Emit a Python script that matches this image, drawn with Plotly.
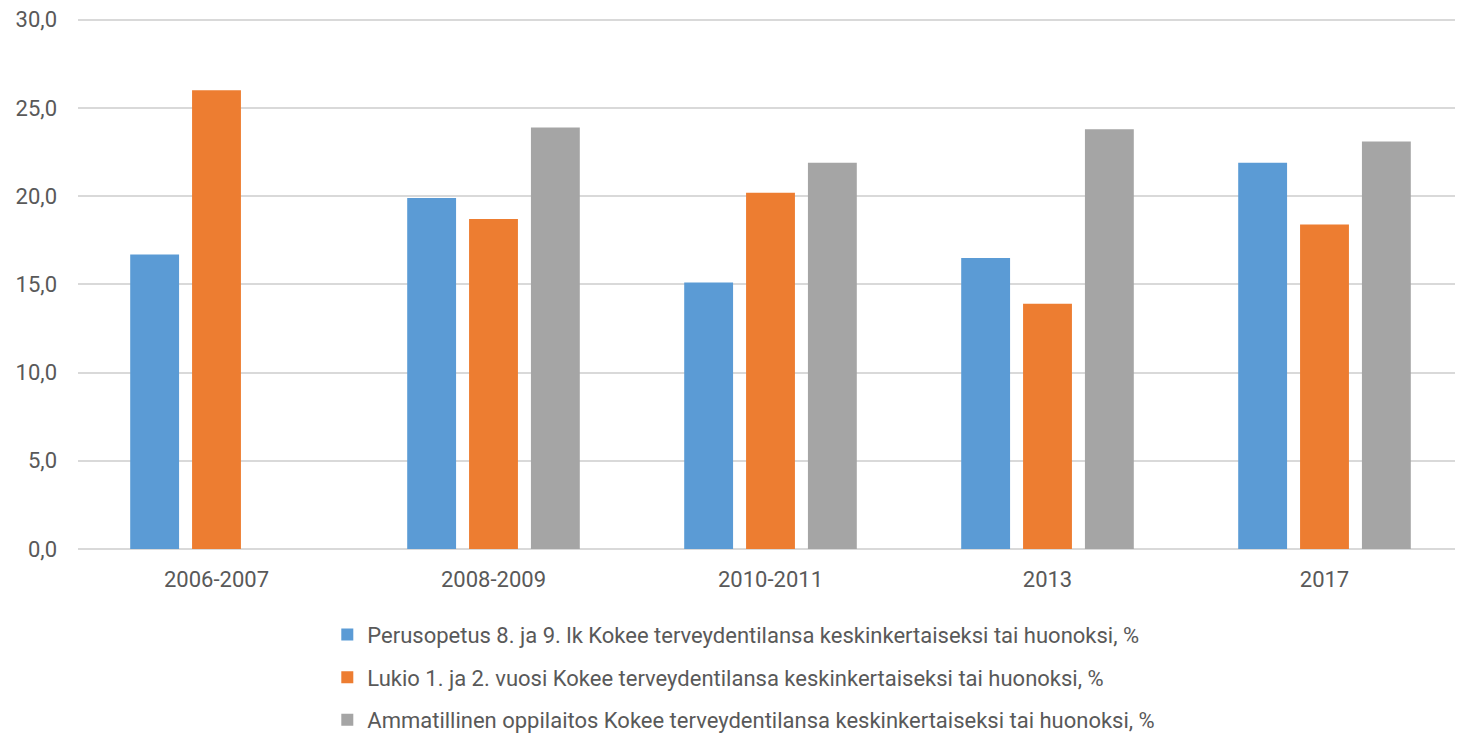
import plotly.graph_objects as go

categories = ["2006-2007", "2008-2009", "2010-2011", "2013", "2017"]
perusopetus = [16.7, 19.9, 15.1, 16.5, 21.9]
lukio = [26.0, 18.7, 20.2, 13.9, 18.4]
ammatillinen = [None, 23.9, 21.9, 23.8, 23.1]
y_ticks = [0, 5, 10, 15, 20, 25, 30]

names = [
    "Perusopetus 8. ja 9. lk Kokee terveydentilansa keskinkertaiseksi tai huonoksi, %",
    "Lukio 1. ja 2. vuosi Kokee terveydentilansa keskinkertaiseksi tai huonoksi, %",
    "Ammatillinen oppilaitos Kokee terveydentilansa keskinkertaiseksi tai huonoksi, %",
]
colors = ["#5B9BD5", "#ED7D31", "#A5A5A5"]
series = [perusopetus, lukio, ammatillinen]

FONT = "Roboto, sans-serif"

fig = go.Figure()
for i, (nm, vals, col) in enumerate(zip(names, series, colors)):
    fig.add_trace(go.Bar(
        x=categories, y=vals, name=nm,
        marker=dict(color=col, line=dict(width=0)),
        legendgroup=f"g{i}",
    ))

fig.update_layout(
    width=1455, height=729,
    margin=dict(l=70, r=0, t=10, b=188),
    paper_bgcolor="white", plot_bgcolor="white",
    barmode="group", bargap=0.33, bargroupgap=0.21,
    separators=", ",
    font=dict(family=FONT, size=22, color="#595959"),
    showlegend=True,
    legend=dict(
        orientation="v", x=0.18, xanchor="left", xref="paper",
        y=0.169, yanchor="top", yref="container",
        font=dict(family=FONT, size=22, color="#595959"),
        tracegroupgap=11, bgcolor="rgba(0,0,0,0)",
    ),
    xaxis=dict(
        showgrid=False, showline=False, ticks="",
        ticklabelstandoff=15,
        tickfont=dict(family=FONT, size=22, color="#595959"),
    ),
    yaxis=dict(
        range=[0, 30.1], tickmode="array", tickvals=y_ticks,
        ticktext=[f"{v:.1f}".replace(".", ",") for v in y_ticks],
        ticklabeloverflow="allow",
        showgrid=True, gridcolor="#D9D9D9", gridwidth=1.5,
        zeroline=True, zerolinecolor="#D9D9D9", zerolinewidth=1.5,
        showline=False, ticks="", ticklabelstandoff=20,
        tickfont=dict(family=FONT, size=22, color="#595959"),
    ),
)

fig.write_html("out.html")
